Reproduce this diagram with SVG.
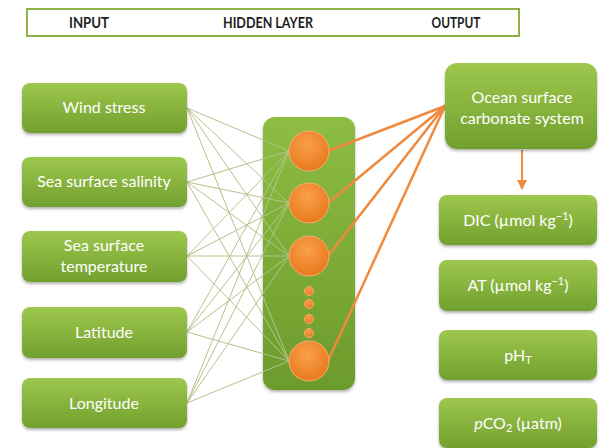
<svg xmlns="http://www.w3.org/2000/svg" width="602" height="448" viewBox="0 0 602 448">
<defs>
<linearGradient id="gb" x1="0" y1="0" x2="0" y2="1">
<stop offset="0" stop-color="#9dc74d"/>
<stop offset="1" stop-color="#72a02e"/>
</linearGradient>
<linearGradient id="gh" x1="0" y1="0" x2="0" y2="1">
<stop offset="0" stop-color="#8dbd42"/>
<stop offset="1" stop-color="#6c9b2c"/>
</linearGradient>
<radialGradient id="go" cx="0.45" cy="0.35" r="0.7">
<stop offset="0" stop-color="#f8a04a"/>
<stop offset="1" stop-color="#e8761a"/>
</radialGradient>
<filter id="sh" x="-10%" y="-10%" width="120%" height="130%">
<feDropShadow dx="0" dy="2" stdDeviation="1.5" flood-color="#000" flood-opacity="0.3"/>
</filter>
<marker id="ah" viewBox="0 0 10 10" refX="9" refY="5" markerWidth="5" markerHeight="5" orient="auto">
<path d="M0,0 L10,5 L0,10 Z" fill="#ed8a3e"/>
</marker>
</defs>
<style>
.box{fill:url(#gb);filter:url(#sh)}
.t{font-family:Lato,"Liberation Sans",sans-serif;font-size:16px;fill:#ffffff;text-anchor:middle}
.hd{font-family:Lato,"Liberation Sans",sans-serif;font-size:15px;font-weight:bold;fill:#1e1e1e;text-anchor:middle}
.gl{stroke:#b4c38c;stroke-width:1;fill:none}
.ol{stroke:#ef8a3c;stroke-width:2.5;fill:none;stroke-linecap:round}
.node{fill:url(#go);stroke:#f6b070;stroke-width:1}
</style>
<rect width="602" height="448" fill="#ffffff"/>
<g id="header">
<rect x="27" y="9" width="492" height="27" fill="#ffffff" stroke="#8db347" stroke-width="2"/>
<text class="hd" x="89" y="28" textLength="40" lengthAdjust="spacingAndGlyphs">INPUT</text>
<text class="hd" x="268" y="28" textLength="90" lengthAdjust="spacingAndGlyphs">HIDDEN LAYER</text>
<text class="hd" x="456" y="28" textLength="49" lengthAdjust="spacingAndGlyphs">OUTPUT</text>
</g>
<g id="hidden-layer">
<rect x="263" y="117" width="92" height="273" rx="12" fill="url(#gh)" filter="url(#sh)"/>
</g>
<g id="connectors">
<line class="gl" x1="187" y1="108" x2="289" y2="151"/>
<line class="gl" x1="187" y1="108" x2="289" y2="203"/>
<line class="gl" x1="187" y1="108" x2="289" y2="256"/>
<line class="gl" x1="187" y1="108" x2="289" y2="361"/>
<line class="gl" x1="187" y1="182" x2="289" y2="151"/>
<line class="gl" x1="187" y1="182" x2="289" y2="203"/>
<line class="gl" x1="187" y1="182" x2="289" y2="256"/>
<line class="gl" x1="187" y1="182" x2="289" y2="361"/>
<line class="gl" x1="187" y1="256" x2="289" y2="151"/>
<line class="gl" x1="187" y1="256" x2="289" y2="203"/>
<line class="gl" x1="187" y1="256" x2="289" y2="256"/>
<line class="gl" x1="187" y1="256" x2="289" y2="361"/>
<line class="gl" x1="187" y1="332" x2="289" y2="151"/>
<line class="gl" x1="187" y1="332" x2="289" y2="203"/>
<line class="gl" x1="187" y1="332" x2="289" y2="256"/>
<line class="gl" x1="187" y1="332" x2="289" y2="361"/>
<line class="gl" x1="187" y1="403" x2="289" y2="151"/>
<line class="gl" x1="187" y1="403" x2="289" y2="203"/>
<line class="gl" x1="187" y1="403" x2="289" y2="256"/>
<line class="gl" x1="187" y1="403" x2="289" y2="361"/>
<line class="ol" x1="328" y1="151" x2="445" y2="106"/>
<line class="ol" x1="328" y1="203" x2="445" y2="106"/>
<line class="ol" x1="328" y1="256" x2="445" y2="106"/>
<line class="ol" x1="328" y1="361" x2="445" y2="106"/>
<line x1="522" y1="150" x2="522" y2="189" stroke="#ed8a3e" stroke-width="2" marker-end="url(#ah)"/>
</g>
<g id="hidden-nodes">
<circle class="node" cx="309" cy="151" r="20"/>
<circle class="node" cx="309" cy="203" r="20"/>
<circle class="node" cx="309" cy="256" r="20"/>
<circle class="node" cx="309" cy="291" r="4.5"/>
<circle class="node" cx="309" cy="304" r="4.5"/>
<circle class="node" cx="309" cy="319" r="4.5"/>
<circle class="node" cx="309" cy="333" r="4.5"/>
<circle class="node" cx="309" cy="361" r="20"/>
</g>
<g id="wind-stress">
<rect class="box" x="22" y="83" width="165" height="50" rx="8"/>
<text class="t" x="104" y="113">Wind stress</text>
</g>
<g id="sea-surface-salinity">
<rect class="box" x="22" y="157" width="165" height="50" rx="8"/>
<text class="t" x="104" y="187">Sea surface salinity</text>
</g>
<g id="sea-surface-temperature">
<rect class="box" x="22" y="231" width="165" height="51" rx="8"/>
<text class="t" x="104" y="251">Sea surface</text>
<text class="t" x="104" y="272">temperature</text>
</g>
<g id="latitude">
<rect class="box" x="22" y="307" width="165" height="51" rx="8"/>
<text class="t" x="104" y="338">Latitude</text>
</g>
<g id="longitude">
<rect class="box" x="22" y="378" width="165" height="50" rx="8"/>
<text class="t" x="104" y="409">Longitude</text>
</g>
<g id="ocean-surface-carbonate-system">
<rect class="box" x="445" y="63" width="152" height="86" rx="12"/>
<text class="t" x="522" y="103">Ocean surface</text>
<text class="t" x="522" y="124">carbonate system</text>
</g>
<g id="dic">
<rect class="box" x="439" y="195" width="158" height="50" rx="8"/>
<text class="t" x="518" y="226">DIC (µmol kg<tspan font-size="11" dy="-6">−1</tspan><tspan dy="6">)</tspan></text>
</g>
<g id="at">
<rect class="box" x="439" y="260" width="158" height="51" rx="8"/>
<text class="t" x="518" y="291">AT (µmol kg<tspan font-size="11" dy="-6">−1</tspan><tspan dy="6">)</tspan></text>
</g>
<g id="ph">
<rect class="box" x="439" y="330" width="158" height="50" rx="8"/>
<text class="t" x="518" y="361">pH<tspan font-size="11" dy="3">T</tspan></text>
</g>
<g id="pco2">
<rect class="box" x="439" y="398" width="158" height="50" rx="8"/>
<text class="t" x="518" y="429"><tspan font-style="italic">p</tspan>CO<tspan font-size="11" dy="3">2</tspan><tspan dy="-3"> (µatm)</tspan></text>
</g>
</svg>
